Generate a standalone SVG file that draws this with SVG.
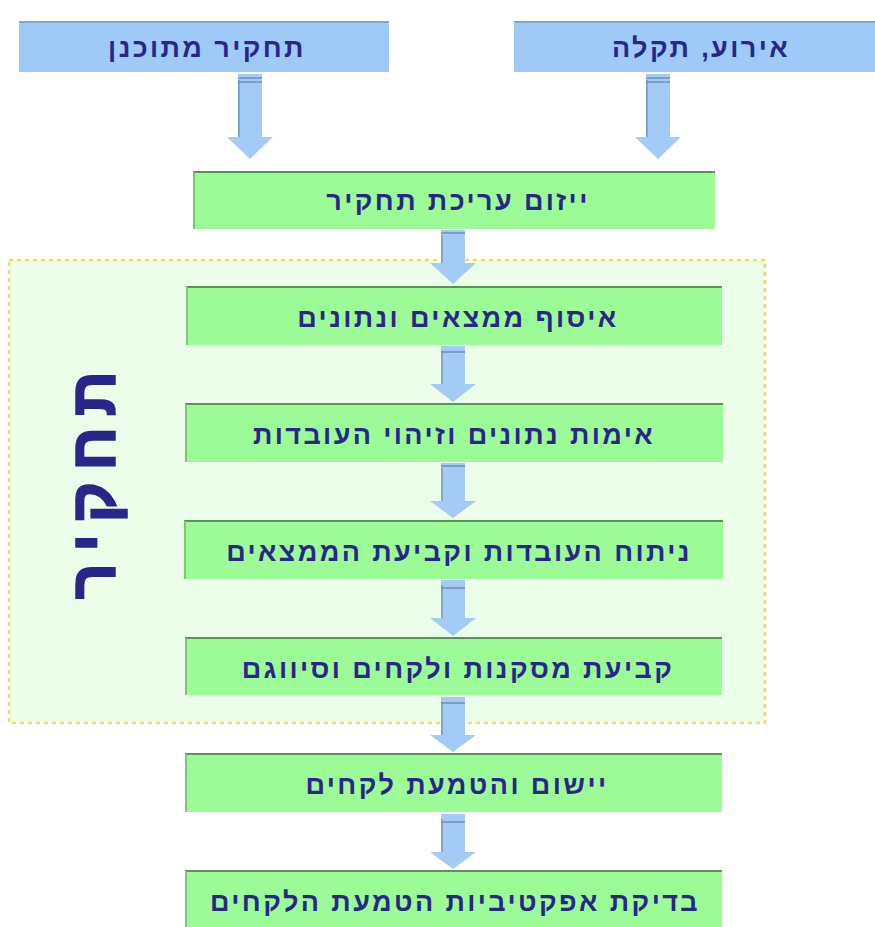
<svg xmlns="http://www.w3.org/2000/svg" width="875" height="927" viewBox="0 0 875 927">
<defs>
<style>
.blue{fill:#9fcaf8}
.green{fill:#9cfb96}
.gtop{stroke:#5f8f5a;stroke-width:2}
.btop{stroke:#7ea6cf;stroke-width:2}
.gleft{stroke:#7cc877;stroke-width:2}
.lbl{font-family:"Liberation Sans","DejaVu Sans",Arial,sans-serif;font-weight:bold;font-size:27px;letter-spacing:2.4px;fill:#29268a;text-anchor:middle;direction:rtl}
.big{font-size:64px;letter-spacing:10px;stroke:#29268a;stroke-width:1.5}
.arrow{fill:#a3cbf5}
.aedge{stroke:#7fa6cf;stroke-width:2}
.stripe{stroke:#6d8fb5;stroke-width:1.5}
</style>
</defs>
<rect width="875" height="927" fill="#ffffff"/>
<rect x="9" y="260" width="756" height="463" fill="#ecfdea" stroke="#f7d66c" stroke-width="2.5" stroke-dasharray="4 4"/>

<g id="connectors">
  <g transform="translate(250,74)">
    <path class="arrow" d="M-12,0 H12 V63 H23 L0,85 L-23,63 H-12 Z"/>
    <line class="aedge" x1="-11" y1="6" x2="-11" y2="63"/>
    <line class="stripe" x1="-12" y1="4" x2="12" y2="4"/>
    <line class="stripe" x1="-12" y1="8" x2="12" y2="8"/>
  </g>
  <g transform="translate(658,74)">
    <path class="arrow" d="M-12,0 H12 V63 H23 L0,85 L-23,63 H-12 Z"/>
    <line class="aedge" x1="-11" y1="6" x2="-11" y2="63"/>
    <line class="stripe" x1="-12" y1="4" x2="12" y2="4"/>
    <line class="stripe" x1="-12" y1="8" x2="12" y2="8"/>
  </g>
  <g transform="translate(453,230)">
    <path class="arrow" d="M-12,0 H12 V33 H23 L0,54 L-23,33 H-12 Z"/>
    <line class="aedge" x1="-11" y1="5" x2="-11" y2="33"/>
    <line class="stripe" x1="-12" y1="3" x2="12" y2="3"/>
  </g>
  <g transform="translate(453,346)">
    <path class="arrow" d="M-12,0 H12 V38 H23 L0,56 L-23,38 H-12 Z"/>
    <line class="aedge" x1="-11" y1="5" x2="-11" y2="38"/>
    <line class="stripe" x1="-12" y1="6" x2="12" y2="6"/>
  </g>
  <g transform="translate(453,463)">
    <path class="arrow" d="M-12,0 H12 V38 H23 L0,55 L-23,38 H-12 Z"/>
    <line class="aedge" x1="-11" y1="5" x2="-11" y2="38"/>
    <line class="stripe" x1="-12" y1="3" x2="12" y2="3"/>
  </g>
  <g transform="translate(453,580)">
    <path class="arrow" d="M-12,0 H12 V38 H23 L0,56 L-23,38 H-12 Z"/>
    <line class="aedge" x1="-11" y1="5" x2="-11" y2="38"/>
    <line class="stripe" x1="-12" y1="8" x2="12" y2="8"/>
  </g>
  <g transform="translate(453,697)">
    <path class="arrow" d="M-12,0 H12 V38 H23 L0,55 L-23,38 H-12 Z"/>
    <line class="aedge" x1="-11" y1="5" x2="-11" y2="38"/>
    <line class="stripe" x1="-12" y1="6" x2="12" y2="6"/>
  </g>
  <g transform="translate(453,814)">
    <path class="arrow" d="M-12,0 H12 V38 H23 L0,55 L-23,38 H-12 Z"/>
    <line class="aedge" x1="-11" y1="5" x2="-11" y2="38"/>
    <line class="stripe" x1="-12" y1="8" x2="12" y2="8"/>
  </g>
</g>

<g id="n-planned">
  <rect class="blue" x="19" y="21" width="370" height="51"/>
  <line class="btop" x1="19" y1="22" x2="389" y2="22"/>
  <text class="lbl" x="207" y="57">תחקיר מתוכנן</text>
</g>
<g id="n-event">
  <rect class="blue" x="514" y="21" width="361" height="51"/>
  <line class="btop" x1="514" y1="22" x2="875" y2="22"/>
  <text class="lbl" x="701" y="57">אירוע, תקלה</text>
</g>
<g id="n-init">
  <rect class="green" x="193" y="171" width="522" height="58"/>
  <line class="gtop" x1="193" y1="172" x2="715" y2="172"/>
  <line class="gleft" x1="194" y1="172" x2="194" y2="229"/>
  <text class="lbl" x="458" y="210">ייזום עריכת תחקיר</text>
</g>
<g id="n-collect">
  <rect class="green" x="186" y="286" width="536" height="59"/>
  <line class="gtop" x1="186" y1="287" x2="722" y2="287"/>
  <line class="gleft" x1="187" y1="287" x2="187" y2="345"/>
  <text class="lbl" x="458" y="327">איסוף ממצאים ונתונים</text>
</g>
<g id="n-verify">
  <rect class="green" x="185" y="403" width="538" height="59"/>
  <line class="gtop" x1="185" y1="404" x2="723" y2="404"/>
  <line class="gleft" x1="186" y1="404" x2="186" y2="462"/>
  <text class="lbl" x="454" y="444">אימות נתונים וזיהוי העובדות</text>
</g>
<g id="n-analyze">
  <rect class="green" x="184" y="520" width="539" height="59"/>
  <line class="gtop" x1="184" y1="521" x2="723" y2="521"/>
  <line class="gleft" x1="185" y1="521" x2="185" y2="579"/>
  <text class="lbl" x="459" y="561">ניתוח העובדות וקביעת הממצאים</text>
</g>
<g id="n-conclude">
  <rect class="green" x="185" y="637" width="537" height="58"/>
  <line class="gtop" x1="185" y1="638" x2="722" y2="638"/>
  <line class="gleft" x1="186" y1="638" x2="186" y2="695"/>
  <text class="lbl" x="458" y="678">קביעת מסקנות ולקחים וסיווגם</text>
</g>
<g id="n-implement">
  <rect class="green" x="185" y="753" width="537" height="59"/>
  <line class="gtop" x1="185" y1="754" x2="722" y2="754"/>
  <line class="gleft" x1="186" y1="754" x2="186" y2="812"/>
  <text class="lbl" x="457" y="794">יישום והטמעת לקחים</text>
</g>
<g id="n-check">
  <rect class="green" x="185" y="870" width="537" height="57"/>
  <line class="gtop" x1="185" y1="871" x2="722" y2="871"/>
  <line class="gleft" x1="186" y1="871" x2="186" y2="927"/>
  <text class="lbl" x="455" y="911">בדיקת אפקטיביות הטמעת הלקחים</text>
</g>
<g id="n-investigation">
  <text class="lbl big" transform="translate(92,480) rotate(-90)" x="0" y="23">תחקיר</text>
</g>
</svg>
